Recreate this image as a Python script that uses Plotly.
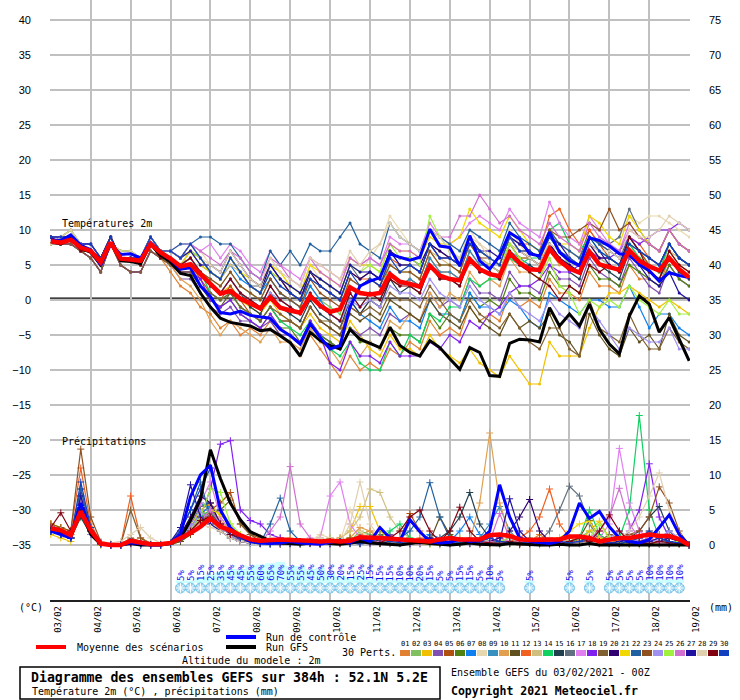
import plotly.graph_objects as go

# échéances toutes les 6h depuis le 03/02/2021 00Z
heures = list(range(0, 385, 6))
jours = ["03/02", "04/02", "05/02", "06/02", "07/02", "08/02", "09/02", "10/02", "11/02",
         "12/02", "13/02", "14/02", "15/02", "16/02", "17/02", "18/02", "19/02"]

temp_moyenne = [8.4, 8.2, 8.6, 7.5, 7.0, 5.4, 8.2, 5.9, 5.8, 5.6, 8.0, 6.8,
                5.9, 4.8, 5.1, 3.6, 2.3, 0.9, 1.3, 0.2, -0.5, -1.2, 0.4, -1.1,
                -1.5, -1.8, 0.6, -0.8, -1.7, -1.3, 1.8, 1.0, 0.8, 1.0, 3.7, 2.6,
                2.3, 1.9, 4.9, 3.5, 3.0, 2.8, 5.8, 4.4, 3.7, 3.4, 6.7, 5.3,
                4.4, 4.3, 7.3, 5.6, 4.5, 3.9, 6.9, 5.1, 4.7, 4.3, 7.1, 5.6,
                4.8, 4.2, 6.0, 4.4, 3.2]
temp_controle = [8.6, 8.5, 9.3, 7.8, 7.2, 5.0, 8.0, 6.5, 6.6, 6.0, 8.2, 6.8,
                 5.8, 4.4, 4.6, 2.0, 0.5, -1.8, -2.0, -1.6, -2.2, -2.4, -2.6, -4.2,
                 -5.1, -6.3, -3.4, -5.3, -7.0, -6.5, -1.0, 2.0, 2.7, 3.2, 6.6, 6.1,
                 5.7, 6.1, 10.1, 7.7, 7.5, 4.9, 9.2, 5.6, 4.4, 6.3, 9.6, 8.7,
                 6.6, 6.3, 9.7, 6.8, 5.6, 4.9, 8.9, 8.5, 7.7, 6.6, 6.4, 5.1,
                 4.2, 2.7, 3.9, 3.5, 3.2]
temp_gfs = [8.3, 8.0, 8.8, 7.4, 6.8, 5.0, 8.2, 5.6, 5.5, 5.2, 8.0, 6.4,
            5.4, 3.8, 3.5, 1.0, -1.0, -2.6, -3.2, -3.5, -3.7, -4.4, -4.2, -5.1,
            -6.1, -8.0, -4.6, -5.8, -6.5, -7.0, -4.2, -5.6, -6.2, -6.8, -3.9, -6.5,
            -7.5, -8.0, -5.8, -6.8, -8.4, -9.9, -6.8, -7.5, -10.8, -10.9, -6.2, -5.6,
            -5.7, -6.0, -1.1, -3.7, -2.0, -3.7, -0.6, -4.2, -6.3, -7.7, -2.3, 0.6,
            -0.6, -4.6, -2.5, -5.6, -8.7]

precip_moyenne = [2.4, 2.1, 1.4, 4.8, 2.1, 0.2, 0.0, 0.0, 0.6, 0.3, 0.1, 0.1,
                  0.3, 1.0, 1.7, 2.6, 3.8, 2.6, 2.1, 1.4, 0.8, 0.6, 0.7, 0.8,
                  0.7, 0.7, 0.6, 0.5, 0.6, 0.5, 0.6, 1.1, 1.1, 1.0, 0.9, 0.8,
                  0.7, 0.5, 0.5, 0.8, 1.0, 0.8, 0.8, 0.8, 1.4, 1.5, 1.3, 0.8,
                  0.7, 0.8, 0.8, 0.8, 1.2, 1.2, 1.0, 0.5, 0.8, 1.0, 1.0, 1.3,
                  1.5, 1.3, 1.3, 0.8, 0.0]
precip_controle = [2.0, 1.5, 1.0, 6.0, 2.0, 0.2, 0, 0, 0.3, 0.2, 0, 0,
                   0.3, 1.5, 6.9, 10.0, 11.4, 5.0, 2.5, 1.2, 0.5, 0.3, 0.2, 0.3,
                   0.5, 0.3, 0.2, 0.1, 0.4, 0.6, 0.3, 1.0, 0.5, 2.5, 1.0, 0.6,
                   3.6, 1.9, 0.5, 0.3, 0.4, 0.8, 0.5, 0.6, 2.0, 8.6, 4.0, 1.0,
                   0.5, 0.3, 0.2, 0.5, 2.0, 6.0, 3.8, 4.8, 2.6, 1.0, 0.5, 0.3,
                   0.8, 2.5, 4.3, 1.5, 0.0]
precip_gfs = [2.5, 1.8, 1.2, 5.0, 1.5, 0.1, 0, 0, 0.2, 0, 0, 0,
              0.2, 1.0, 3.5, 6.5, 13.6, 9.5, 6.0, 3.6, 1.9, 1.2, 0.6, 0.3,
              0.2, 0.1, 0.3, 0.5, 0.2, 0.1, 0.3, 0.5, 0.3, 0.2, 0.1, 0,
              0.2, 0.4, 0.2, 0.1, 0, 0.1, 0.3, 0.1, 0, 0, 0.2, 0.1,
              0, 0, 0, 0.1, 0, 0, 0.2, 0, 0, 0, 0.1, 0,
              0, 0, 0.1, 0, 0]

# 30 perturbations, températures 2m
temp_perts = [
    [8, 8, 8, 7, 6, 4, 8, 5, 4, 4, 7, 6, 4, 2, 1, -1, -2, -4, -3, -5, -4, -5, -3, -5, -6, -8, -5, -7, -9, -11, -8, -10,
     -9, -10, -7, -8, -6, -7, -3, -5, -4, -5, -1, -3, -2, -3, 1, -1, 0, -1, 3, 1, 1, 0, 4, 2, 2, 1, 5, 3, 3, 2, 6, 4, 3],
    [8, 8, 9, 8, 7, 5, 8, 6, 6, 6, 8, 7, 6, 5, 6, 4, 3, 2, 4, 2, 1, 0, 3, 1, 0, -1, 2, 0, -1, -2, 2, 1,
     1, 1, 5, 4, 4, 3, 7, 5, 5, 4, 8, 6, 5, 4, 8, 6, 6, 5, 9, 7, 5, 4, 8, 6, 6, 5, 8, 7, 5, 4, 7, 5, 4],
    [8, 8, 9, 8, 7, 5, 8, 6, 6, 6, 8, 7, 6, 5, 6, 4, 2, 1, 2, 0, -1, -2, 0, -2, -3, -4, -2, -4, -5, -6, -3, -5,
     -7, -8, -5, -7, -7, -8, -5, -7, -8, -9, -7, -9, -10, -11, -8, -10, -12, -12, -6, -8, -8, -8, -4, -1, 1, 1, 2, 1, 0, -1, 0, -1, -2],
    [8, 8, 8, 7, 6, 4, 8, 5, 4, 4, 7, 6, 5, 3, 3, 1, -1, -2, -1, -3, -3, -4, -3, -5, -5, -6, -3, -5, -6, -7, -4, -5,
     -4, -5, -2, -3, -2, -3, 1, -1, 0, -1, 3, 1, 1, 0, 4, 2, 2, 1, 5, 3, 3, 2, 6, 4, 3, 2, 6, 4, 2, 1, 5, 3, 2],
    [9, 8, 9, 7, 7, 6, 9, 6, 6, 5, 8, 6, 6, 5, 5, 3, 1, 0, 2, 0, -2, -3, -1, -3, -3, -4, -1, -3, -4, -5, -1, -2,
     0, -1, 3, 2, 3, 2, 6, 4, 4, 3, 7, 5, 5, 4, 8, 6, 6, 5, 10, 8, 7, 6, 10, 8, 6, 5, 9, 7, 5, 4, 8, 6, 5],
    [9, 8, 9, 7, 7, 6, 9, 6, 6, 5, 8, 6, 6, 4, 4, 2, 0, -1, 0, -2, -3, -4, -2, -4, -4, -6, -3, -5, -6, -7, -4, -6,
     -6, -7, -4, -5, -5, -6, -2, -4, -2, -3, 1, -1, 0, -1, 3, 1, 1, 0, 4, 2, 2, 1, 5, 3, 3, 2, 5, 4, 3, 2, 5, 3, 2],
    [8, 8, 9, 8, 7, 5, 8, 6, 6, 6, 8, 7, 6, 5, 7, 5, 4, 3, 5, 3, 2, 1, 3, 1, 0, -1, 2, 0, -2, -3, 0, -2,
     -3, -4, -1, -3, -3, -4, 0, -2, -2, -3, 1, -1, -1, -2, 0, -1, -3, -4, 1, 0, -1, -2, 0, 0, -1, -1, 2, -1, -4, -2, -2, -4, -5],
    [8, 9, 10, 8, 7, 5, 8, 7, 7, 6, 9, 7, 7, 6, 8, 7, 5, 4, 7, 5, 3, 2, 5, 4, 2, 1, 5, 3, 2, 1, 5, 4,
     6, 8, 12, 10, 8, 7, 11, 9, 7, 6, 10, 8, 7, 6, 10, 8, 6, 5, 9, 8, 7, 6, 9, 8, 8, 9, 12, 11, 12, 12, 11, 10, 9],
    [9, 8, 9, 7, 7, 6, 9, 6, 6, 5, 8, 6, 6, 5, 6, 4, 2, 1, 3, 1, 0, -1, 2, 0, -1, -2, 1, -1, -2, -3, 1, -1,
     1, 0, 4, 2, 3, 2, 6, 4, 4, 3, 7, 5, 5, 4, 7, 6, 5, 4, 8, 6, 5, 4, 7, 6, 5, 4, 7, 5, 4, 3, 6, 4, 3],
    [8, 8, 8, 7, 6, 4, 8, 5, 4, 4, 7, 6, 5, 3, 2, 0, -3, -5, -3, -4, -5, -6, -4, -6, -6, -7, -4, -6, -7, -9, -6, -8,
     -6, -7, -3, -4, -2, -3, 1, -1, 1, 0, 4, 2, 3, 2, 6, 4, 4, 3, 7, 5, 5, 4, 7, 6, 6, 5, 8, 6, 5, 4, 7, 5, 4],
    [8, 8, 8, 7, 6, 4, 8, 5, 4, 4, 7, 6, 5, 4, 4, 2, 0, -1, 1, -1, -2, -3, -1, -3, -3, -4, -1, -3, -4, -5, -2, -3,
     -2, -3, 0, -1, -2, -3, 0, -2, -3, -4, -1, -3, -4, -5, -2, -4, -3, -4, -2, -5, -6, -8, -2, -5, -7, -8, -4, -6, -5, -7, -2, -5, -6],
    [8, 9, 10, 8, 7, 5, 8, 7, 7, 6, 9, 7, 7, 6, 7, 6, 4, 3, 6, 4, 2, 1, 4, 3, 1, 0, 4, 2, 1, 0, 4, 3,
     3, 2, 6, 5, 5, 4, 8, 6, 6, 5, 9, 7, 6, 5, 9, 8, 8, 7, 12, 13, 10, 8, 10, 8, 7, 6, 9, 8, 6, 5, 8, 6, 5],
    [8, 8, 9, 8, 7, 5, 8, 6, 6, 6, 8, 7, 6, 5, 7, 5, 4, 3, 5, 4, 2, 1, 4, 2, 1, 0, 3, 2, 1, 0, 3, 2,
     3, 2, 6, 4, 4, 3, 7, 6, 5, 4, 8, 6, 5, 4, 8, 7, 6, 5, 8, 7, 6, 5, 8, 6, 5, 4, 8, 6, 5, 4, 7, 6, 5],
    [9, 8, 9, 7, 7, 6, 9, 6, 6, 5, 8, 6, 6, 5, 6, 4, 1, 0, 1, -1, -2, -3, -1, -3, -4, -5, -3, -5, -7, -8, -6, -9,
     -10, -10, -6, -8, -5, -6, -2, -3, -1, -1, 3, 2, 3, 3, 6, 5, 6, 6, 10, 11, 8, 7, 9, 7, 6, 5, 8, 6, 5, 4, 8, 6, 5],
    [8, 8, 9, 8, 7, 5, 8, 6, 6, 6, 8, 7, 6, 5, 6, 4, 2, 1, 3, 1, -1, -2, 1, -1, -2, -3, 0, -2, -3, -4, 0, -2,
     0, -1, 3, 1, 2, 1, 5, 3, 3, 2, 6, 4, 4, 3, 7, 5, 5, 4, 8, 6, 4, 3, 7, 5, 4, 3, 7, 5, 4, 3, 6, 4, 3],
    [8, 9, 10, 8, 7, 5, 8, 7, 7, 6, 9, 7, 7, 6, 7, 6, 4, 3, 6, 4, 2, 2, 5, 3, 1, 0, 4, 3, 2, 1, 5, 3,
     4, 3, 7, 5, 5, 4, 8, 7, 6, 5, 9, 7, 6, 5, 9, 8, 7, 6, 9, 7, 6, 5, 9, 8, 8, 9, 13, 10, 8, 7, 10, 8, 7],
    [9, 9, 9, 8, 8, 6, 9, 6, 6, 6, 9, 7, 7, 8, 8, 7, 8, 6, 8, 7, 5, 4, 7, 5, 4, 3, 6, 5, 4, 3, 6, 5,
     6, 5, 9, 8, 8, 7, 11, 9, 8, 9, 11, 12, 11, 10, 13, 11, 10, 9, 14, 11, 9, 8, 12, 10, 8, 7, 11, 9, 8, 7, 10, 8, 7],
    [8, 8, 8, 7, 6, 4, 8, 5, 4, 4, 7, 6, 6, 4, 4, 3, 0, -1, 0, -2, -3, -4, -2, -4, -5, -6, -3, -5, -9, -10, -6, -8,
     -8, -9, -6, -8, -8, -8, -6, -7, -5, -6, -3, -4, -2, -1, 1, 2, 2, 3, 5, 4, 4, 5, 7, 6, 6, 7, 9, 8, 9, 10, 10, 11, 10],
    [8, 8, 8, 7, 6, 4, 8, 5, 4, 4, 7, 6, 5, 4, 4, 2, 1, 0, 1, -1, -2, -3, -1, -2, -3, -4, -1, -3, -3, -4, -1, -2,
     -1, -2, 1, 0, 0, -1, 2, 0, -2, -3, 0, -2, -3, -4, -2, -4, -6, -7, -4, -4, -7, -8, 0, -4, -5, -6, -2, -5, -7, -7, -4, -6, -7],
    [9, 9, 9, 8, 8, 6, 9, 6, 6, 6, 9, 7, 7, 6, 8, 6, 4, 3, 6, 4, 2, 1, 5, 3, 1, 0, 4, 2, 1, 0, 4, 3,
     4, 3, 7, 6, 6, 5, 8, 7, 6, 5, 9, 7, 6, 5, 9, 7, 6, 5, 8, 6, 5, 4, 8, 6, 6, 5, 9, 7, 6, 5, 8, 6, 5],
    [8, 8, 9, 8, 7, 5, 8, 6, 6, 6, 8, 7, 6, 5, 7, 5, 4, 3, 6, 4, 3, 2, 5, 4, 2, 1, 5, 4, 3, 2, 6, 5,
     5, 4, 8, 7, 7, 6, 9, 8, 8, 9, 13, 11, 10, 9, 12, 10, 8, 7, 10, 8, 8, 7, 12, 11, 9, 8, 12, 10, 8, 7, 10, 8, 7],
    [9, 9, 9, 8, 8, 6, 9, 6, 6, 6, 9, 7, 7, 8, 8, 9, 9, 8, 8, 6, 4, 3, 7, 5, 7, 5, 8, 7, 7, 9, 11, 8,
     7, 6, 11, 9, 8, 7, 10, 9, 8, 7, 10, 9, 8, 7, 11, 9, 8, 7, 10, 8, 7, 6, 9, 8, 7, 6, 9, 7, 6, 5, 8, 6, 5],
    [9, 8, 9, 7, 7, 6, 9, 6, 6, 5, 8, 6, 6, 5, 6, 4, 3, 2, 4, 2, 1, 0, 3, 1, 0, -1, 3, 1, 0, -1, 3, 2,
     3, 2, 5, 4, 4, 3, 7, 5, 5, 4, 8, 6, 6, 5, 9, 7, 7, 6, 10, 9, 9, 10, 11, 10, 13, 10, 11, 9, 8, 7, 10, 8, 7],
    [8, 8, 9, 8, 7, 5, 8, 6, 6, 6, 8, 7, 6, 5, 6, 4, 2, 1, 3, 1, 0, -1, 1, 0, -1, -2, 1, -1, -2, -3, 0, -1,
     0, -1, 2, 1, 1, 0, 3, 1, 0, -1, 2, 0, -1, -2, 1, -1, -2, -3, 0, -2, -3, -4, -1, -3, -5, -7, -4, -5, -6, -6, -4, -7, -7],
    [8, 9, 10, 8, 7, 5, 8, 7, 7, 6, 9, 7, 7, 6, 7, 6, 4, 3, 6, 4, 2, 1, 4, 3, 2, 1, 4, 3, 2, 1, 5, 4,
     5, 4, 8, 6, 6, 5, 12, 9, 7, 6, 9, 7, 6, 5, 8, 6, 4, 3, 6, 2, 1, -2, 0, -1, 0, -1, 2, 0, -1, -2, 0, -2, -2],
    [9, 9, 9, 8, 8, 6, 9, 6, 6, 6, 9, 7, 7, 6, 8, 7, 6, 5, 7, 6, 4, 3, 6, 5, 3, 2, 6, 4, 3, 2, 6, 5,
     6, 5, 8, 7, 7, 6, 10, 9, 9, 12, 12, 15, 13, 11, 12, 10, 9, 8, 11, 9, 8, 7, 11, 9, 8, 7, 10, 9, 8, 7, 10, 8, 7],
    [9, 9, 9, 8, 8, 6, 9, 6, 6, 6, 9, 7, 7, 6, 7, 5, 5, 4, 7, 5, 3, 2, 5, 3, 2, 1, 4, 3, 2, 1, 5, 4,
     4, 3, 7, 5, 5, 4, 8, 6, 6, 5, 9, 7, 7, 6, 9, 8, 7, 6, 9, 8, 6, 5, 8, 7, 5, 4, 7, 5, 3, 2, 4, 1, 0],
    [8, 9, 10, 8, 7, 5, 8, 7, 7, 6, 9, 7, 7, 6, 8, 6, 5, 4, 7, 5, 3, 2, 6, 4, 3, 2, 6, 5, 4, 3, 7, 5,
     7, 8, 11, 9, 8, 7, 10, 9, 7, 6, 9, 8, 6, 5, 9, 7, 6, 5, 8, 7, 6, 5, 8, 7, 7, 6, 10, 9, 9, 10, 12, 11, 10],
    [9, 8, 9, 7, 7, 6, 9, 6, 6, 5, 8, 6, 6, 5, 6, 4, 2, 1, 3, 1, 0, -1, 2, 0, -1, -2, 1, -1, -2, -3, 1, -1,
     1, 0, 3, 2, 2, 1, 5, 3, 3, 2, 6, 4, 4, 3, 7, 5, 4, 3, 2, 0, 2, 1, 5, 4, 5, 4, 9, 7, 4, 3, 7, 5, 4],
    [9, 9, 9, 8, 8, 6, 9, 6, 6, 6, 9, 7, 7, 6, 8, 6, 4, 3, 6, 4, 2, 1, 4, 2, 1, 0, 3, 2, 1, 0, 4, 2,
     3, 2, 6, 4, 5, 4, 8, 6, 6, 5, 8, 7, 6, 5, 9, 7, 7, 6, 9, 7, 6, 5, 9, 7, 6, 5, 8, 7, 6, 5, 8, 6, 5],
]

# 30 perturbations, précipitations (mm / 6h)
precip_perts = [
    [2, 1.5, 1, 6, 2, 0.2, 0, 0, 0.5, 0.3, 0, 0, 0.2, 1, 2, 4, 6, 3, 2, 1, 0.5, 0.3, 0.2, 0.5, 1, 0.5,
     0.3, 0.2, 0.5, 0.8, 0.3, 1.5, 2, 1, 0.5, 0.3, 0.2, 0.5, 1, 0.5, 0.3, 0.2, 0.5, 1, 0.5, 0.3, 0.2, 0, 0.5, 1.5, 0.5, 0.2,
     0.3, 0.5, 1, 0.5, 0.3, 0.2, 0.5, 1, 2, 1, 0.5, 0.3, 0],
    [2.5, 2, 1, 4, 1.5, 0, 0, 0, 0.3, 0, 0, 0, 0.3, 1.5, 3, 5, 4, 2, 1, 0.5, 0.3, 0.2, 0.5, 0.3, 0.2, 0.1,
     0.5, 1, 0.5, 0.3, 0.5, 2, 1.5, 0.5, 0.3, 0.5, 1, 0.5, 0.2, 0.3, 1.5, 0.5, 0.3, 0.2, 0.5, 0.3, 0.5, 1, 0.5, 0.3, 0.2, 0.3,
     0.5, 1, 2, 1, 0.5, 0.3, 0.2, 0.5, 1, 0.5, 0.3, 0.2, 0],
    [1.5, 1, 0.5, 5, 2, 0, 0, 0, 0.2, 0, 0, 0, 0.5, 1, 2.5, 5, 6, 4, 2, 1, 0.5, 0.3, 0.2, 0.1, 0.3, 0.5,
     0.2, 0.1, 0.3, 1, 2, 5.5, 5.5, 2, 1, 0.5, 0.3, 0.2, 0.1, 0, 0.2, 0.5, 0.3, 0.1, 0, 0, 0.2, 0.5, 0.2, 0, 0, 0.1,
     0.3, 0.5, 2, 3.4, 1, 0.3, 0.1, 0, 0.2, 0.5, 0.3, 0.1, 0],
    [3, 2, 1.5, 7, 2, 0.3, 0, 0, 0.5, 0.2, 0, 0, 0.2, 0.8, 2, 3.5, 5, 3, 1.5, 1, 0.5, 0.3, 0.8, 0.5, 0.3, 0.2,
     0.5, 0.3, 0.2, 0.5, 1, 0.5, 0.3, 0.5, 1.5, 0.5, 0.3, 0.2, 0.5, 0.3, 0.2, 0.5, 1, 0.5, 0.3, 0.2, 0.5, 0.3, 0.2, 0.5, 1, 0.5,
     0.3, 0.2, 0.5, 1.5, 0.5, 0.3, 0.2, 0.5, 1, 1.5, 0.5, 0.2, 0],
    [2, 1.5, 1, 5, 1.5, 0.2, 0, 0, 0.3, 0.1, 0, 0, 0.2, 1, 2, 3, 5, 6, 7.5, 3, 1.5, 1, 0.5, 0.3, 0.2, 0.3,
     0.5, 0.3, 0.2, 0.5, 0.3, 0.8, 1, 0.5, 0.3, 0.5, 4.5, 2, 0.5, 0.3, 0.2, 0.5, 0.3, 0.2, 0.5, 1, 0.5, 0.3, 0.2, 0.5, 0.3, 0.2,
     0.5, 1, 0.5, 0.3, 0.2, 0.5, 1, 0.5, 0.3, 0.5, 0.3, 0.2, 0],
    [2.5, 2, 1, 4.5, 1.5, 0.1, 0, 0, 0.2, 0, 0, 0, 0.1, 0.5, 1.5, 3, 4, 2.5, 1.5, 0.8, 0.5, 0.3, 0.2, 0.5, 0.3, 0.2,
     0.3, 0.5, 1, 0.5, 0.3, 0.2, 0.5, 1.5, 0.8, 0.3, 0.2, 0.5, 0.3, 0.2, 0.5, 1, 0.5, 0.3, 0.2, 0.3, 0.5, 0.2, 0.1, 0.3, 0.5, 0.2,
     0.1, 0.3, 0.5, 0.2, 0.5, 1, 0.5, 0.2, 0.1, 0.3, 0.5, 0.2, 0],
    [2, 1.5, 1, 5.5, 2, 0.2, 0, 0, 0.3, 0.1, 0, 0, 0.3, 1.5, 2.5, 4.5, 5.5, 3, 1.5, 0.5, 0.3, 0.2, 0.1, 0.3, 0.5, 0.3,
     0.2, 0.1, 0.3, 0.5, 0.3, 0.2, 0.5, 1, 0.5, 0.3, 0.2, 0.5, 1.5, 1, 0.5, 2, 4, 1.5, 0.5, 0.3, 0.2, 0.5, 0.3, 0.2, 0.5, 1,
     0.5, 0.3, 0.2, 0.5, 0.3, 1, 0.5, 0.3, 0.2, 0.5, 0.3, 0.2, 0],
    [3, 2.5, 1.5, 6, 2.5, 0.3, 0, 0, 0.5, 1, 0.3, 0, 0.2, 0.8, 2, 4, 3, 2, 1, 0.5, 0.3, 0.5, 0.3, 0.2, 0.5, 0.3,
     0.5, 1.5, 1, 0.5, 5, 2, 1, 0.5, 0.3, 0.2, 0.5, 0.3, 0.2, 0.3, 0.5, 1, 0.5, 0.3, 0.2, 0.5, 0.3, 0.2, 0.1, 0.3, 0.5, 0.2,
     0.3, 0.5, 1, 0.5, 0.3, 0.2, 0.5, 1, 0.5, 0.3, 0.5, 0.3, 0],
    [2, 1.5, 1, 7, 2, 0.2, 0, 0, 0.3, 0.2, 0, 0, 0.2, 1, 3, 6, 5, 2.5, 1.5, 0.5, 0.3, 0.2, 0.5, 1, 0.5, 0.3,
     0.2, 0.3, 0.5, 0.3, 0.2, 0.5, 1, 0.5, 0.3, 0.2, 0.5, 0.3, 1, 0.5, 0.3, 0.2, 0.5, 1, 3, 5.5, 2, 0.5, 0.3, 0.2, 0.5, 0.3,
     0.2, 0.5, 1, 0.5, 0.3, 0.2, 0.3, 0.5, 0.2, 0.1, 0.3, 0.5, 0],
    [2.5, 2, 1.5, 6, 2, 0.2, 0, 0, 0.5, 0.3, 0, 0, 0.2, 1, 2, 4, 5, 3.5, 2, 1, 0.5, 0.3, 0.2, 0.5, 0.3, 0.2,
     0.3, 0.5, 0.3, 0.2, 1, 2.5, 2, 1, 0.5, 0.3, 0.2, 0.3, 0.5, 0.3, 0.5, 1, 0.5, 6, 16, 6, 1.5, 0.5, 0.3, 0.2, 0.5, 0.3,
     0.2, 0.3, 0.5, 1, 0.5, 0.3, 0.2, 0.5, 0.3, 0.2, 0.3, 0.2, 0],
    [2, 2, 1, 5, 1.5, 0.1, 0, 0, 0.3, 0.2, 0, 0, 0.1, 0.5, 1.5, 3, 4.5, 3, 2, 1, 0.5, 0.3, 0.2, 0.1, 0.3, 0.5,
     0.3, 0.2, 0.5, 0.3, 0.5, 1, 0.5, 0.3, 0.2, 0.5, 0.3, 0.2, 0.5, 4, 1.5, 0.5, 0.3, 0.2, 0.5, 0.3, 0.2, 0.1, 0.3, 0.5, 0.3, 0.2,
     0.5, 1, 3.5, 1, 0.5, 0.3, 0.2, 0.5, 0.3, 0.2, 0.1, 0.2, 0],
    [3, 2.5, 2, 11, 3, 0.3, 0, 0, 7, 1, 0.2, 0, 0.3, 1, 2, 3, 4, 2.5, 1.5, 0.5, 0.3, 0.2, 0.5, 0.3, 0.2, 0.5,
     0.3, 0.2, 0.5, 1, 0.5, 0.3, 0.5, 0.3, 0.2, 0.3, 0.5, 1, 0.5, 0.3, 0.2, 0.5, 0.3, 0.2, 0.5, 0.3, 0.5, 1, 2, 4, 8, 3,
     1, 0.5, 0.3, 0.2, 0.5, 0.3, 0.2, 0.5, 1, 0.5, 0.3, 0.2, 0],
    [2.5, 2, 1.5, 6.5, 2, 0.2, 0, 0, 0.3, 0.2, 0, 0, 0.5, 1.5, 2.5, 4, 3.5, 2, 1, 0.5, 0.3, 0.2, 0.3, 0.5, 0.3, 0.2,
     0.5, 0.3, 0.5, 1, 2, 4, 8, 7.5, 4, 2, 1, 0.5, 0.3, 0.5, 0.3, 0.2, 0.5, 1, 0.5, 0.3, 0.2, 0.5, 0.3, 0.2, 0.5, 1,
     0.5, 0.3, 0.2, 0.5, 0.3, 0.2, 0.5, 1, 0.5, 0.3, 0.2, 0.3, 0],
    [2, 1.5, 1, 5, 1.5, 0.1, 0, 0, 0.3, 0, 0, 0, 0.2, 1, 2, 4, 5, 3, 1.5, 1, 0.5, 0.3, 0.2, 0.5, 0.3, 0.2,
     0.3, 0.2, 0.5, 0.3, 0.5, 1, 0.5, 0.3, 2, 3, 1, 0.5, 0.3, 0.2, 0.5, 0.3, 0.2, 0.5, 0.3, 0.2, 0.5, 0.3, 0.2, 0.5, 1, 0.5,
     0.3, 1, 5, 1.5, 0.5, 1, 5, 18.5, 5, 1, 0.5, 0.3, 0],
    [2, 1.5, 1, 4, 1.5, 0.2, 0, 0, 0.2, 0, 0, 0, 0.3, 1, 2, 3.5, 5, 3, 1.5, 0.5, 0.3, 0.2, 0.5, 0.3, 0.2, 0.5,
     0.3, 0.2, 0.5, 0.3, 0.2, 0.5, 1, 0.5, 0.3, 0.2, 0.5, 0.3, 0.5, 1, 2, 4, 7.5, 3, 1, 0.5, 0.3, 0.2, 0.5, 0.3, 0.2, 0.5,
     0.3, 0.5, 1, 0.5, 0.3, 0.5, 1, 2, 4, 5.5, 2, 0.5, 0],
    [2, 1.5, 1, 6, 2, 0.2, 0, 0, 0.5, 0.3, 0, 0, 0.2, 1, 3, 5.5, 6, 3, 1.5, 1, 0.5, 0.3, 0.2, 0.5, 0.3, 0.2,
     0.5, 0.3, 0.2, 0.5, 0.3, 0.2, 0.5, 1, 0.5, 0.3, 0.2, 0.5, 0.3, 0.2, 0.5, 0.3, 0.2, 0.5, 0.3, 0.5, 1, 0.5, 0.3, 0.5, 2, 5,
     8.4, 7, 3, 1, 0.5, 0.3, 0.2, 0.5, 0.3, 0.2, 0.5, 0.3, 0],
    [2.5, 2, 1, 5, 1.5, 0.2, 0, 0, 0.3, 0.2, 0, 0, 0.3, 1.5, 3, 6, 9, 4, 2, 1, 0.5, 0.3, 0.5, 1, 0.5, 0.3,
     0.5, 1, 7, 9, 3, 1, 0.5, 0.3, 0.2, 0.5, 0.3, 0.2, 0.5, 0.3, 0.2, 0.5, 0.3, 0.2, 0.5, 1, 0.5, 0.3, 0.2, 0.5, 0.3, 0.2,
     0.5, 0.3, 0.5, 1, 3, 13.8, 6, 2, 1, 0.5, 0.3, 0.2, 0],
    [2, 1.5, 1, 4.5, 1.5, 0.1, 0, 0, 0.2, 0, 0, 0, 0.2, 0.8, 2, 4, 8, 14.4, 14.9, 5, 3.5, 3, 1.5, 1, 0.5, 0.3,
     0.5, 0.3, 0.2, 0.5, 0.3, 0.2, 0.5, 1, 0.5, 0.3, 0.2, 0.5, 0.3, 0.2, 0.5, 0.3, 0.2, 0.5, 1, 0.5, 0.3, 0.2, 0.5, 0.3, 0.2, 0.5,
     0.3, 0.5, 1, 0.5, 0.3, 0.5, 2, 5, 11.6, 4, 1, 0.5, 0],
    [2.5, 2, 1.5, 8, 2.5, 0.3, 0, 0, 5, 1, 0.2, 0, 0.2, 1, 2, 3, 4.5, 5, 6.4, 3, 1.5, 0.5, 0.3, 0.2, 0.5, 0.3,
     0.2, 0.5, 0.3, 0.2, 0.5, 1, 0.5, 0.3, 0.2, 0.5, 0.3, 0.2, 0.5, 0.3, 0.2, 0.5, 0.3, 0.2, 0.5, 0.3, 0.2, 0.5, 1, 0.5, 0.3, 0.2,
     0.5, 0.3, 0.2, 0.5, 1.5, 1, 0.5, 0.3, 0.2, 0.5, 0.3, 0.2, 0],
    [2, 1.5, 1, 6, 2, 0.2, 0, 0, 0.3, 0.1, 0, 0, 0.3, 1.5, 4, 7, 6, 3, 1.5, 1, 0.5, 0.3, 0.2, 0.5, 0.3, 0.2,
     0.3, 0.5, 0.3, 0.2, 0.5, 0.3, 0.2, 0.5, 1, 0.5, 0.3, 0.2, 0.5, 0.3, 0.2, 0.5, 0.3, 0.2, 0.5, 1, 2, 4, 6.5, 2, 0.5, 0.3,
     0.2, 0.5, 0.3, 0.2, 0.5, 1, 0.5, 0.3, 0.2, 0.5, 1, 0.5, 0],
    [3, 2.5, 1.5, 5, 2, 0.3, 0, 0, 0.5, 0.3, 0, 0, 0.3, 1, 2, 3.5, 5, 4.5, 3, 1.5, 0.5, 0.3, 0.2, 0.5, 0.3, 0.2,
     0.5, 0.3, 0.2, 0.5, 1, 0.5, 0.3, 0.5, 0.3, 0.2, 0.5, 0.3, 0.2, 0.5, 1, 0.5, 0.3, 0.2, 0.5, 0.3, 0.2, 0.5, 0.3, 0.2, 0.5, 1,
     2, 3, 3.4, 1, 0.5, 0.3, 0.2, 0.5, 0.3, 0.2, 0.5, 0.3, 0],
    [2, 1.5, 1, 8, 2, 0.2, 0, 0, 0.3, 0.2, 0, 0, 0.5, 2, 5, 9, 4, 2.5, 1.5, 1, 0.5, 0.3, 3, 6.7, 2, 0.5,
     0.5, 0.3, 0.2, 0.5, 0.3, 0.2, 0.5, 0.3, 0.5, 1, 2, 4, 8.9, 4, 1, 0.5, 0.3, 0.2, 0.5, 0.3, 0.2, 0.5, 0.3, 0.2, 0.5, 0.3,
     0.2, 0.5, 1, 0.5, 0.3, 0.2, 0.5, 0.3, 0.2, 0.5, 0.3, 0.2, 0],
    [3, 2.5, 2, 13.7, 4, 0.5, 0, 0, 1, 0.5, 0, 0, 0.3, 1, 2, 3, 4, 3, 2, 1, 0.5, 0.3, 0.2, 0.5, 0.3, 0.2,
     0.5, 0.3, 0.2, 0.5, 1, 0.5, 0.3, 0.2, 0.5, 0.3, 0.2, 0.5, 1, 0.5, 0.3, 0.2, 0.5, 0.3, 0.2, 0.5, 0.3, 0.2, 0.5, 1, 0.5, 0.3,
     0.2, 0.5, 0.3, 0.2, 0.5, 1, 1.5, 2, 4, 8.3, 6, 2, 0],
    [2.5, 2, 1, 4.5, 1.5, 0.2, 0, 0, 0.3, 0.1, 0, 0, 0.2, 1, 2.5, 4.5, 4, 2.5, 1.5, 0.5, 0.3, 0.5, 0.3, 0.2, 0.5, 0.3,
     0.2, 0.5, 0.3, 0.2, 0.5, 1, 0.5, 0.3, 0.2, 0.5, 0.3, 0.2, 0.5, 1, 0.5, 0.3, 0.2, 0.5, 0.3, 0.2, 0.5, 0.3, 0.2, 0.5, 1, 0.5,
     0.3, 0.2, 0.5, 0.3, 1, 2, 1, 0.5, 0.3, 1, 2, 1, 0],
    [2, 1.5, 1, 5, 2, 0.2, 0, 0, 0.3, 0.2, 0, 0, 0.3, 1, 2, 4, 8, 7.5, 3, 1.5, 0.5, 0.3, 0.2, 0.5, 0.3, 0.2,
     0.3, 0.2, 0.5, 0.3, 0.2, 0.5, 0.3, 0.2, 0.5, 1, 0.5, 0.3, 0.2, 0.5, 0.3, 0.2, 0.5, 0.3, 0.2, 0.5, 1, 0.5, 0.3, 0.2, 0.5, 0.3,
     0.2, 0.5, 1, 3, 1, 0.5, 0.3, 0.2, 0.5, 0.3, 0.2, 0.5, 0],
    [2.5, 2, 1.5, 6, 2, 0.3, 0, 0, 0.5, 0.2, 0, 0, 0.3, 1, 2, 3.5, 5, 3, 2, 1, 0.5, 0.3, 2, 4, 11.2, 3,
     1, 0.5, 0.3, 0.2, 0.5, 0.3, 0.2, 0.5, 1, 0.5, 0.3, 0.2, 0.5, 0.3, 0.2, 0.5, 0.3, 0.2, 0.5, 4.5, 1, 0.5, 0.3, 0.2, 0.5, 0.3,
     0.2, 0.5, 1, 2, 4, 8.1, 3, 1, 0.5, 0.3, 0.2, 0.3, 0],
    [2, 1.5, 1, 7, 2, 0.2, 0, 0, 0.3, 0.2, 0, 0, 0.5, 2.5, 8.6, 4, 3, 2, 1, 0.5, 0.3, 0.2, 0.5, 0.3, 0.2, 0.5,
     0.3, 0.2, 0.5, 0.3, 0.2, 0.5, 0.3, 0.2, 0.5, 0.3, 0.2, 0.5, 1, 0.5, 0.3, 0.2, 0.5, 0.3, 0.2, 0.5, 6.6, 2, 0.5, 0.3, 0.2, 0.5,
     0.3, 0.2, 0.5, 0.3, 0.2, 0.5, 0.3, 0.2, 0.5, 1, 0.5, 0.3, 0],
    [2.5, 2, 1.5, 5.5, 2, 0.5, 0.3, 0.5, 1.5, 2.5, 1, 0.3, 0.5, 1, 2, 3, 2.5, 2, 1, 0.5, 0.3, 0.5, 1, 0.5, 0.3, 0.2,
     0.5, 1, 0.5, 0.3, 3, 9, 3, 1, 0.5, 0.3, 0.2, 0.5, 0.3, 0.2, 0.5, 0.3, 0.2, 0.5, 0.3, 0.2, 0.5, 0.3, 0.2, 0.5, 1, 0.5,
     0.3, 0.2, 0.5, 0.3, 0.5, 1, 2, 4, 7, 10.3, 5, 1.5, 0],
    [2.5, 4.6, 2, 5, 2, 0.3, 0, 0, 0.3, 0.2, 0, 0, 0.2, 1, 2, 3.5, 4, 3, 1.5, 1, 0.5, 0.3, 0.2, 0.5, 0.3, 0.2,
     0.3, 0.2, 0.5, 0.3, 0.5, 1, 0.5, 0.3, 1, 2, 4, 5, 2, 0.5, 2, 5.4, 2, 0.5, 0.3, 0.2, 0.5, 0.3, 0.2, 0.5, 0.3, 0.2,
     0.5, 1, 0.5, 2, 4.3, 2, 0.5, 0.3, 0.2, 0.5, 0.3, 0.2, 0],
    [2, 1.5, 1, 9, 2.5, 0.3, 0, 0, 0.5, 0.2, 0, 0, 0.3, 2, 5, 8, 11, 5, 2, 1, 0.5, 0.3, 0.2, 0.5, 0.3, 0.2,
     0.5, 0.3, 0.2, 0.5, 0.3, 0.2, 0.5, 1, 0.5, 0.3, 0.2, 0.5, 0.3, 0.2, 0.5, 0.3, 0.2, 0.5, 1, 0.5, 0.3, 0.2, 0.5, 0.3, 0.2, 0.5,
     0.3, 0.5, 1, 0.5, 0.3, 0.2, 0.5, 1, 2, 1, 0.5, 0.3, 0],
]

# probabilité de neige (%) par échéance
neige_heures = [78, 84, 90, 96, 102, 108, 114, 120, 126, 132, 138, 144, 150, 156, 162, 168, 174,
                180, 186, 192, 198, 204, 210, 216, 222, 228, 234, 240, 246, 252, 258, 264, 270,
                288, 312, 324, 336, 342, 348, 354, 360, 366, 372, 378]
neige_pct = [5, 5, 15, 25, 35, 45, 45, 55, 60, 65, 70, 55, 55, 45, 50, 30, 20, 15, 25, 15, 15, 15,
             10, 10, 20, 15, 5, 5, 15, 15, 5, 10, 5, 5, 5, 5, 5, 5, 5, 5, 10, 10, 10, 10]

couleurs_perts = ["#e08030", "#80c060", "#f0c000", "#8050b0", "#b05010", "#508010",
                  "#1080f0", "#e8d8b0", "#3890c0", "#e0a050", "#605020", "#f06020",
                  "#d0c080", "#10d060", "#204050", "#607080", "#e080f0", "#8020f0",
                  "#806030", "#300070", "#f0d800", "#2060a0", "#905020", "#a090f0",
                  "#a0f040", "#d070d0", "#2010a0", "#e0d0b0", "#800010", "#1040c0"]

MONO = "DejaVu Sans Mono"
SANS = "Liberation Sans"


# coordonnées pixel -> papier (zone de tracé 50..690 x 0..600)
def px(x):
    return (x - 50) / 640.0


def py(y):
    return (600 - y) / 600.0


fig = go.Figure()

# perturbations
for i, c in enumerate(couleurs_perts):
    fig.add_trace(go.Scatter(
        x=heures, y=temp_perts[i], mode="lines+markers", yaxis="y",
        line=dict(color=c, width=1.2), marker=dict(size=3, color=c),
        hoverinfo="skip", showlegend=False))
for i, c in enumerate(couleurs_perts):
    fig.add_trace(go.Scatter(
        x=heures, y=precip_perts[i], mode="lines+markers", yaxis="y2",
        line=dict(color=c, width=1.2),
        marker=dict(symbol="cross-thin", size=5, color=c, line=dict(color=c, width=1)),
        hoverinfo="skip", showlegend=False))

# bande neige
fig.add_trace(go.Bar(
    x=neige_heures, y=[(1 + 0.29 * p) / 7.0 for p in neige_pct], base=-40.43,
    width=6, marker=dict(color="#ccffff", line=dict(width=0)),
    yaxis="y", hoverinfo="skip", showlegend=False))
fig.add_trace(go.Scatter(
    x=neige_heures, y=[-41.14] * len(neige_heures), mode="markers", yaxis="y",
    marker=dict(symbol="circle", size=10, color="#9ad4f0", line=dict(color="#70c0e8", width=1)),
    hoverinfo="skip", showlegend=False))
fig.add_trace(go.Scatter(
    x=neige_heures, y=[-41.14] * len(neige_heures), mode="markers", yaxis="y",
    marker=dict(symbol="asterisk-open", size=8, color="white", line=dict(color="white", width=1)),
    hoverinfo="skip", showlegend=False))

# runs principaux
fig.add_trace(go.Scatter(x=heures, y=temp_gfs, mode="lines", yaxis="y",
                         line=dict(color="black", width=3), hoverinfo="skip", showlegend=False))
fig.add_trace(go.Scatter(x=heures, y=temp_controle, mode="lines", yaxis="y",
                         line=dict(color="#0000ff", width=3), hoverinfo="skip", showlegend=False))
fig.add_trace(go.Scatter(x=heures, y=temp_moyenne, mode="lines", yaxis="y",
                         line=dict(color="#ff0000", width=4.5), hoverinfo="skip", showlegend=False))
fig.add_trace(go.Scatter(x=heures, y=precip_gfs, mode="lines", yaxis="y2",
                         line=dict(color="black", width=3), hoverinfo="skip", showlegend=False))
fig.add_trace(go.Scatter(x=heures, y=precip_controle, mode="lines", yaxis="y2",
                         line=dict(color="#0000ff", width=3), hoverinfo="skip", showlegend=False))
fig.add_trace(go.Scatter(x=heures, y=precip_moyenne, mode="lines", yaxis="y2",
                         line=dict(color="#ff0000", width=4.5), hoverinfo="skip", showlegend=False))

shapes = [
    # double ligne du 0°C
    dict(type="line", xref="paper", yref="y", x0=0, x1=1, y0=0.28, y1=0.28,
         line=dict(color="black", width=1.2), layer="below"),
    dict(type="line", xref="paper", yref="y", x0=0, x1=1, y0=-0.02, y1=-0.02,
         line=dict(color="black", width=1.2), layer="below"),
    # légende
    dict(type="line", xref="paper", yref="paper", x0=px(36), x1=px(66), y0=py(647), y1=py(647),
         line=dict(color="#ff0000", width=4)),
    dict(type="line", xref="paper", yref="paper", x0=px(226), x1=px(256), y0=py(637), y1=py(637),
         line=dict(color="#0000ff", width=4)),
    dict(type="line", xref="paper", yref="paper", x0=px(226), x1=px(256), y0=py(647), y1=py(647),
         line=dict(color="black", width=4)),
    dict(type="rect", xref="paper", yref="paper", x0=px(20), x1=px(440), y0=py(667), y1=py(699),
         line=dict(color="black", width=1.5)),
]
for k, c in enumerate(couleurs_perts):
    shapes.append(dict(type="rect", xref="paper", yref="paper",
                       x0=px(400 + 11 * k), x1=px(410 + 11 * k), y0=py(650), y1=py(656),
                       fillcolor=c, line=dict(width=0)))

annotations = []


def texte(x, y, t, size=10, bold=False, anchor="left", color="black", family=MONO):
    if bold:
        t = "<b>" + t + "</b>"
    annotations.append(dict(x=px(x), y=py(y), xref="paper", yref="paper", text=t,
                            showarrow=False, xanchor=anchor, yanchor="middle",
                            font=dict(family=family, size=size, color=color)))


texte(60, 223, "Températures 2m", size=10)
texte(60, 441, "Précipitations", size=10)
texte(31, 607, "(°C)", size=10, anchor="center")
texte(721, 607, "(mm)", size=10, anchor="center")
texte(75, 647, "Moyenne des scénarios", size=10)
texte(264, 637, "Run de contrôle", size=10)
texte(264, 647, "Run GFS", size=10)
texte(180, 660, "Altitude du modele : 2m", size=10)
texte(340, 652, "30 Perts.", size=10)
texte(29, 677, "Diagramme des ensembles GEFS sur 384h : 52.1N 5.2E", size=13.2, bold=True)
texte(30, 691, "Température 2m (°C) , précipitations (mm)", size=10)
texte(449, 672, "Ensemble GEFS du 03/02/2021 - 00Z", size=10)
texte(449, 691, "Copyright 2021 Meteociel.fr", size=11.5, bold=True)
for k in range(30):
    texte(405 + 11 * k, 644, "%02d" % (k + 1), size=7, anchor="center")

for h, p in zip(neige_heures, neige_pct):
    annotations.append(dict(x=h, y=-40.43, xref="x", yref="y", text="%d%%" % p,
                            showarrow=False, textangle=-90, xanchor="center", yanchor="bottom",
                            yshift=1, borderpad=0,
                            font=dict(family=MONO, size=9, color="#1010f0")))

fig.update_layout(
    width=740, height=700, autosize=False,
    margin=dict(l=50, r=50, t=0, b=100, pad=0),
    paper_bgcolor="white", plot_bgcolor="white",
    showlegend=False, barmode="overlay",
    xaxis=dict(range=[-0.5, 384.5], tickvals=list(range(0, 385, 24)), ticktext=jours,
               showgrid=True, gridcolor="#c0c0c0", gridwidth=1.5, zeroline=False,
               showline=True, linecolor="#202020", linewidth=1.5, ticks="",
               tickangle=-90, tickfont=dict(family=MONO, size=8.8, color="black"),
               ticklabelstandoff=1, ticklabelshift=7),
    yaxis=dict(range=[-42.857, 42.857], tickvals=list(range(-35, 41, 5)),
               showgrid=True, gridcolor="#c0c0c0", gridwidth=1.5, zeroline=False,
               showline=False, ticks="", tickfont=dict(family=SANS, size=11, color="black"),
               ticklabelstandoff=18),
    yaxis2=dict(range=[-7.857, 77.857], tickvals=list(range(0, 76, 5)), overlaying="y",
                side="right", showgrid=False, zeroline=False, showline=False, ticks="",
                tickfont=dict(family=SANS, size=11, color="black"), ticklabelstandoff=18),
    shapes=shapes,
    annotations=annotations,
)

# la page garde la figure collée au coin haut-gauche
fig.write_html("out.html", config={"displayModeBar": False},
               post_script="document.body.style.margin='0px';")
